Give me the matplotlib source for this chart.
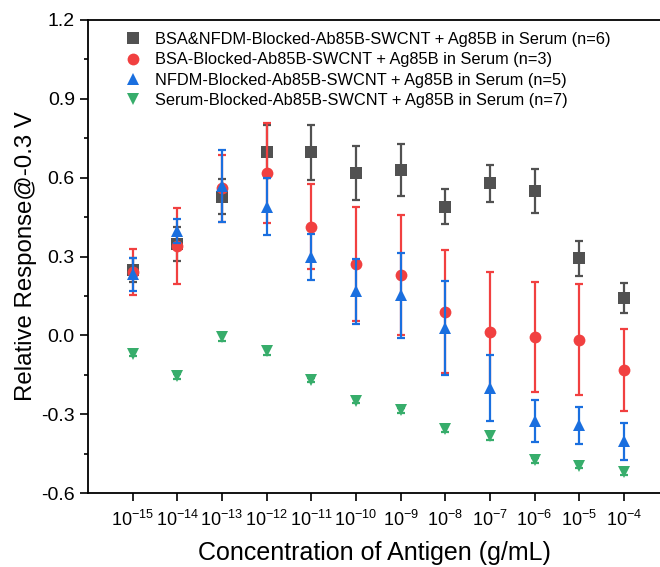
import matplotlib
matplotlib.use("Agg")
import matplotlib.pyplot as plt
import numpy as np
from matplotlib.lines import Line2D
from matplotlib.ticker import MultipleLocator, FormatStrFormatter

plt.rcParams["font.family"] = ["Liberation Sans", "DejaVu Sans"]
plt.rcParams["mathtext.fontset"] = "custom"
plt.rcParams["mathtext.rm"] = "Liberation Sans"
plt.rcParams["mathtext.it"] = "Liberation Sans"
plt.rcParams["axes.unicode_minus"] = False

# log10 of antigen concentration (g/mL)
exponents = [-15, -14, -13, -12, -11, -10, -9, -8, -7, -6, -5, -4]
tick_labels = [r"$\mathregular{10^{%d}}$" % e for e in exponents]

series_labels = [
    "BSA&NFDM-Blocked-Ab85B-SWCNT + Ag85B in Serum (n=6)",
    "BSA-Blocked-Ab85B-SWCNT + Ag85B in Serum (n=3)",
    "NFDM-Blocked-Ab85B-SWCNT + Ag85B in Serum (n=5)",
    "Serum-Blocked-Ab85B-SWCNT + Ag85B in Serum (n=7)",
]

bsa_nfdm_mean = [0.249, 0.348, 0.528, 0.699, 0.697, 0.617, 0.629, 0.490, 0.579, 0.549, 0.293, 0.141]
bsa_nfdm_err = [0.045, 0.065, 0.067, 0.102, 0.105, 0.103, 0.099, 0.065, 0.071, 0.085, 0.067, 0.057]

bsa_mean = [0.242, 0.341, 0.560, 0.617, 0.414, 0.272, 0.230, 0.089, 0.012, -0.007, -0.016, -0.132]
bsa_err = [0.087, 0.145, 0.128, 0.190, 0.160, 0.217, 0.229, 0.234, 0.228, 0.210, 0.210, 0.157]

nfdm_mean = [0.232, 0.398, 0.568, 0.490, 0.298, 0.167, 0.152, 0.027, -0.200, -0.327, -0.342, -0.403]
nfdm_err = [0.063, 0.045, 0.136, 0.107, 0.086, 0.125, 0.162, 0.178, 0.125, 0.080, 0.070, 0.070]

serum_mean = [-0.070, -0.156, -0.005, -0.060, -0.170, -0.248, -0.286, -0.356, -0.384, -0.476, -0.496, -0.521]
serum_err = [0.010, 0.010, 0.015, 0.014, 0.008, 0.010, 0.010, 0.010, 0.014, 0.008, 0.010, 0.012]

means = [bsa_nfdm_mean, bsa_mean, nfdm_mean, serum_mean]
errors = [bsa_nfdm_err, bsa_err, nfdm_err, serum_err]
colors = ["#515151", "#F14040", "#1A6FDF", "#37AD6B"]
markers = ["s", "o", "^", "v"]

fig = plt.figure(figsize=(6.6, 5.67), dpi=100)
ax = fig.add_axes([88 / 660, 1 - 493 / 567, 1 - 88 / 660, (493 - 20) / 567])

handles = []
for m, e, c, mk, lab in zip(means, errors, colors, markers, series_labels):
    ax.errorbar(exponents, m, yerr=e, fmt="none", ecolor=c, elinewidth=1.6,
                capsize=3, capthick=1.6)
    ax.plot(exponents, m, linestyle="none", marker=mk, color=c, markersize=8.5,
            markeredgewidth=0)
    handles.append(Line2D([], [], linestyle="none", marker=mk, color=c,
                          markersize=8.5, markeredgewidth=0, label=lab))

ax.set_xlim(-16, -3.19)
ax.set_ylim(-0.6, 1.2)
ax.set_xticks(exponents)
ax.set_xticklabels(tick_labels, fontsize=13)
ax.yaxis.set_major_locator(MultipleLocator(0.3))
ax.yaxis.set_minor_locator(MultipleLocator(0.15))
ax.yaxis.set_major_formatter(FormatStrFormatter("%.1f"))
ax.tick_params(axis="y", which="major", direction="out", length=6, width=1.2, labelsize=14)
ax.tick_params(axis="y", which="minor", direction="out", length=3, width=1.2)
ax.tick_params(axis="x", which="major", direction="out", length=6, width=1.2, pad=6)
ax.spines["right"].set_visible(False)
for s in ["left", "bottom", "top"]:
    ax.spines[s].set_linewidth(1.3)

ax.set_xlabel("Concentration of Antigen (g/mL)", fontsize=18, labelpad=8)
ax.set_ylabel("Relative Response@-0.3 V", fontsize=17.3, labelpad=3)

ax.legend(handles=handles, loc="upper left", bbox_to_anchor=(0.045, 0.995), frameon=False,
          fontsize=11.8, handletextpad=0.7, labelspacing=0.32,
          borderaxespad=0.2, handlelength=1.2)

fig.savefig("out.png", dpi=100)
